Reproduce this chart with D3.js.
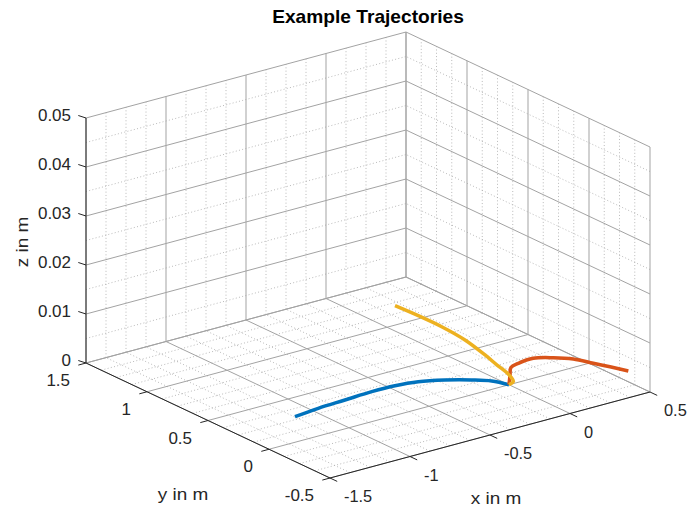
<!DOCTYPE html>
<html>
<head>
<meta charset="utf-8">
<script src="https://cdn.jsdelivr.net/npm/d3@7"></script>
<style>
  body { margin: 0; background: #fff; }
  svg { display: block; font-family: "Liberation Sans", Arial, sans-serif; }
</style>
</head>
<body>
<div id="chart"></div>
<script>
// axis ticks
const xTicks = [-1.5, -1, -0.5, 0, 0.5];
const yTicks = [-0.5, 0, 0.5, 1, 1.5];
const zTicks = [0, 0.01, 0.02, 0.03, 0.04, 0.05];
const xTickLabels = ['-1.5', '-1', '-0.5', '0', '0.5'];
const yTickLabels = ['-0.5', '0', '0.5', '1', '1.5'];
const zTickLabels = ['0', '0.01', '0.02', '0.03', '0.04', '0.05'];

// trajectory 1 (blue)
const blueX = [0, -0.037, -0.108, -0.215, -0.335, -0.462, -0.605, -0.782, -0.958, -1.122];
const blueY = [0, 0.093, 0.164, 0.243, 0.304, 0.329, 0.332, 0.319, 0.307, 0.283];
const blueZ = [0, 0, 0, 0, 0, 0, 0, 0, 0, 0];
// trajectory 2 (orange)
const orangeX = [0, 0.066, 0.112, 0.156, 0.237, 0.301, 0.349, 0.372, 0.388, 0.405];
const orangeY = [0, 0.078, 0.131, 0.128, 0.112, 0.032, -0.069, -0.203, -0.319, -0.447];
const orangeZ = [0, 0.0005, 0.001, 0.0015, 0.002, 0.0025, 0.003, 0.0035, 0.004, 0.0045];
// trajectory 3 (yellow)
const yellowX = [0, 0.045, 0.073, 0.096, 0.119, 0.156, 0.203, 0.222, 0.222, 0.214];
const yellowY = [0, 0.023, 0.080, 0.150, 0.254, 0.401, 0.627, 0.843, 1.035, 1.215];
const yellowZ = [0, 0, 0, 0, 0, 0, 0, 0, 0, 0];

const width = 687, height = 512;

const svg = d3.select('#chart').append('svg')
  .attr('width', width)
  .attr('height', height);

// box corners on screen: front-bottom corner, x and y edge vectors, z height
const origin = [330, 478];
const ex = [320, -86];
const ey = [-244, -115];
const zHeight = 245;

const xScale = d3.scaleLinear().domain([-1.5, 0.5]).range([0, 1]);
const yScale = d3.scaleLinear().domain([-0.5, 1.5]).range([0, 1]);
const zScale = d3.scaleLinear().domain([0, 0.05]).range([0, zHeight]);

function project(x, y, z) {
  const a = xScale(x), b = yScale(y);
  return [origin[0] + a * ex[0] + b * ey[0],
          origin[1] + a * ex[1] + b * ey[1] - zScale(z)];
}

const grid = svg.append('g');

function seg(p, q, minor) {
  grid.append('line')
    .attr('x1', p[0]).attr('y1', p[1])
    .attr('x2', q[0]).attr('y2', q[1])
    .attr('stroke', minor ? '#a8a8a8' : '#a3a3a3')
    .attr('stroke-width', minor ? 0.8 : 1)
    .attr('stroke-dasharray', minor ? '1,2.3' : null);
}

const xMinor = d3.range(-1.5, 0.5001, 0.125).filter(v => !xTicks.some(t => Math.abs(t - v) < 1e-6));
const yMinor = d3.range(-0.5, 1.5001, 0.125).filter(v => !yTicks.some(t => Math.abs(t - v) < 1e-6));
const zMinor = d3.range(0.005, 0.05, 0.01);

// floor (z = 0)
xMinor.forEach(v => seg(project(v, -0.5, 0), project(v, 1.5, 0), true));
yMinor.forEach(v => seg(project(-1.5, v, 0), project(0.5, v, 0), true));
// back wall (y = 1.5)
xMinor.forEach(v => seg(project(v, 1.5, 0), project(v, 1.5, 0.05), true));
zMinor.forEach(v => seg(project(-1.5, 1.5, v), project(0.5, 1.5, v), true));
// side wall (x = 0.5)
yMinor.forEach(v => seg(project(0.5, v, 0), project(0.5, v, 0.05), true));
zMinor.forEach(v => seg(project(0.5, -0.5, v), project(0.5, 1.5, v), true));

xTicks.forEach(v => seg(project(v, -0.5, 0), project(v, 1.5, 0), false));
yTicks.forEach(v => seg(project(-1.5, v, 0), project(0.5, v, 0), false));
xTicks.forEach(v => seg(project(v, 1.5, 0), project(v, 1.5, 0.05), false));
zTicks.forEach(v => seg(project(-1.5, 1.5, v), project(0.5, 1.5, v), false));
yTicks.forEach(v => seg(project(0.5, v, 0), project(0.5, v, 0.05), false));
zTicks.forEach(v => seg(project(0.5, -0.5, v), project(0.5, 1.5, v), false));

// axis lines
const axes = svg.append('g').attr('stroke', '#262626').attr('stroke-width', 1);
function axisLine(p, q) {
  axes.append('line').attr('x1', p[0]).attr('y1', p[1]).attr('x2', q[0]).attr('y2', q[1]);
}
axisLine(project(-1.5, -0.5, 0), project(0.5, -0.5, 0));
axisLine(project(-1.5, -0.5, 0), project(-1.5, 1.5, 0));
axisLine(project(-1.5, 1.5, 0), project(-1.5, 1.5, 0.05));

// tick marks
xTicks.forEach(v => { const p = project(v, -0.5, 0); axisLine(p, [p[0] + 7.2, p[1] + 3.4]); });
yTicks.forEach(v => { const p = project(-1.5, v, 0); axisLine(p, [p[0] - 7.7, p[1] + 2.1]); });
zTicks.forEach(v => { const p = project(-1.5, 1.5, v); axisLine(p, [p[0] - 7.7, p[1] - 2.5]); });

// text helper, slightly widened glyphs to match the original font
const labels = svg.append('g').attr('fill', '#262626');
function addText(x, y, str, size, anchor, rot, sx = 1.09) {
  return labels.append('text')
    .attr('transform', `translate(${x},${y})${rot ? ' rotate(' + rot + ')' : ''} scale(${sx},1)`)
    .attr('text-anchor', anchor)
    .attr('font-size', size)
    .text(str);
}

xTicks.forEach((v, i) => {
  const p = project(v, -0.5, 0);
  addText(p[0] + 14, p[1] + 24, xTickLabels[i], 15.6, 'start', 0, 1.05);
});
yTicks.forEach((v, i) => {
  const p = project(-1.5, v, 0);
  addText(p[0] - 16, p[1] + 23, yTickLabels[i], 15.6, 'end');
});
zTicks.forEach((v, i) => {
  const p = project(-1.5, 1.5, v);
  addText(71, p[1] + 3, zTickLabels[i], 15.6, 'end');
});

// axis titles
addText(496, 504, 'x in m', 17.4, 'middle');
addText(183, 500, 'y in m', 17.4, 'middle');
addText(28, 242, 'z in m', 17.4, 'middle', -90);

addText(368, 23, 'Example Trajectories', 17.6, 'middle')
  .attr('font-weight', 'bold').attr('fill', '#000');

// trajectories
const series = [
  { color: '#0072BD', xs: blueX, ys: blueY, zs: blueZ },
  { color: '#D95319', xs: orangeX, ys: orangeY, zs: orangeZ },
  { color: '#EDB120', xs: yellowX, ys: yellowY, zs: yellowZ }
];
const line = d3.line().curve(d3.curveCatmullRom.alpha(0.5));
series.forEach(s => {
  const pts = s.xs.map((x, i) => project(x, s.ys[i], s.zs[i]));
  svg.append('path')
    .attr('d', line(pts))
    .attr('fill', 'none')
    .attr('stroke', s.color)
    .attr('stroke-width', 3.5)
    .attr('stroke-linecap', 'butt');
});
</script>
</body>
</html>
